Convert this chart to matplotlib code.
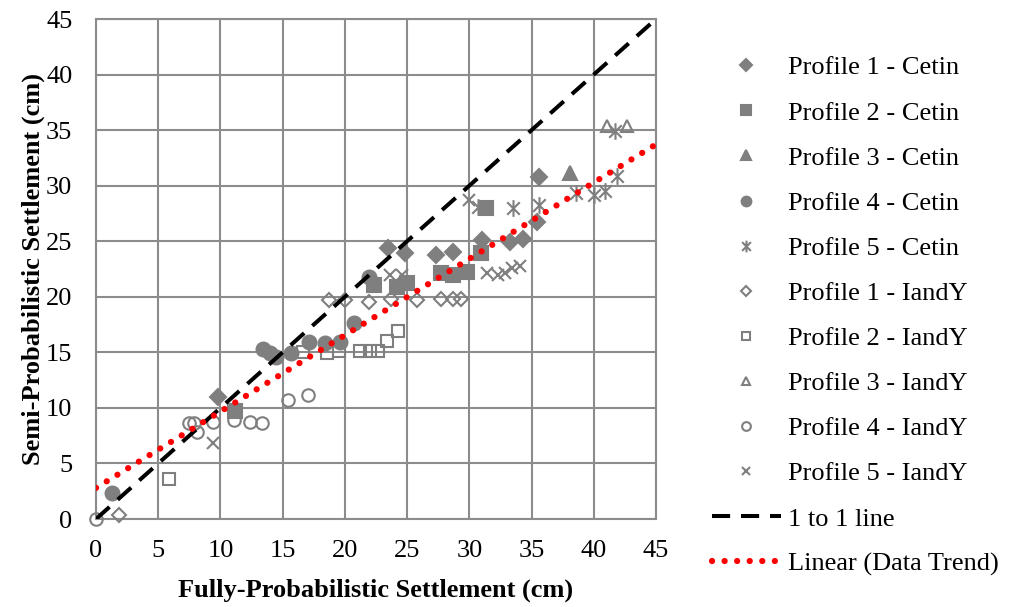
import numpy as np
import matplotlib
matplotlib.use('Agg')
import matplotlib.pyplot as plt
from matplotlib.path import Path

plt.rcParams['font.family'] = ['Liberation Serif', 'DejaVu Serif']

# data (cm)
p1_cetin_x = [9.8, 23.5, 24.8, 27.3, 28.7, 31.0, 33.3, 34.3, 35.4, 35.6]
p1_cetin_y = [11.0, 24.4, 23.9, 23.8, 24.0, 25.1, 24.9, 25.2, 26.7, 30.8]

p2_cetin_x = [11.2, 22.3, 24.2, 25.0, 27.7, 28.7, 29.8, 30.9, 31.3]
p2_cetin_y = [9.7, 21.1, 20.9, 21.2, 22.1, 22.0, 22.2, 23.9, 28.0]

p3_cetin_x = [38.1]
p3_cetin_y = [31.1]

p4_cetin_x = [1.3, 13.4, 14.0, 14.5, 15.7, 17.1, 18.4, 19.6, 20.7, 21.9]
p4_cetin_y = [2.3, 15.3, 14.9, 14.6, 14.9, 15.9, 15.8, 15.9, 17.6, 21.8]

p5_cetin_x = [30.7, 33.5, 35.6, 38.6, 40.0, 40.9, 41.9, 41.7]
p5_cetin_y = [28.1, 28.0, 28.3, 29.3, 29.2, 29.5, 30.9, 34.9]

p1_iandy_x = [1.85, 18.7, 20.0, 21.9, 23.7, 25.8, 27.7, 28.7, 29.3]
p1_iandy_y = [0.4, 19.7, 19.7, 19.5, 19.8, 19.7, 19.8, 19.8, 19.8]

p2_iandy_x = [5.9, 16.6, 18.6, 19.5, 21.2, 22.0, 22.7, 23.4, 24.3]
p2_iandy_y = [3.6, 15.0, 14.9, 15.1, 15.1, 15.1, 15.1, 16.0, 16.9]

p3_iandy_x = [41.1, 42.7]
p3_iandy_y = [35.4, 35.4]

p4_iandy_x = [0.0, 7.5, 7.9, 8.1, 9.4, 11.1, 12.4, 13.3, 15.4, 17.0]
p4_iandy_y = [0.0, 8.6, 8.6, 7.8, 8.7, 8.9, 8.7, 8.6, 10.7, 11.2]

p5_iandy_x = [9.4, 23.6, 24.6, 30.0, 31.4, 32.3, 32.9, 33.4, 34.1]
p5_iandy_y = [6.8, 22.0, 22.0, 28.7, 22.1, 22.0, 22.1, 22.6, 22.8]

one_to_one = [0, 45]
trend_intercept = 2.8
trend_slope = 0.687

ticks = [0, 5, 10, 15, 20, 25, 30, 35, 40, 45]

gray = '#7f7f7f'
grid_gray = '#8c8c8c'

# excel style asterisk: x plus a vertical bar
star = Path([(0, -1), (0, 1), (-0.75, -0.75), (0.75, 0.75), (-0.75, 0.75), (0.75, -0.75)],
            [Path.MOVETO, Path.LINETO, Path.MOVETO, Path.LINETO, Path.MOVETO, Path.LINETO])

fig = plt.figure(figsize=(10.1, 6.07), dpi=100)
ax = fig.add_axes([96 / 1010, 1 - 519 / 607, 560 / 1010, 500 / 607])

series = [
    (p1_cetin_x, p1_cetin_y, 'D', 8.5, True, 'Profile 1 - Cetin'),
    (p2_cetin_x, p2_cetin_y, 's', 9.5, True, 'Profile 2 - Cetin'),
    (p3_cetin_x, p3_cetin_y, '^', 10.5, True, 'Profile 3 - Cetin'),
    (p4_cetin_x, p4_cetin_y, 'o', 10, True, 'Profile 4 - Cetin'),
    (p5_cetin_x, p5_cetin_y, star, 12, False, 'Profile 5 - Cetin'),
    (p1_iandy_x, p1_iandy_y, 'D', 7.5, False, 'Profile 1 - IandY'),
    (p2_iandy_x, p2_iandy_y, 's', 8.5, False, 'Profile 2 - IandY'),
    (p3_iandy_x, p3_iandy_y, '^', 9, False, 'Profile 3 - IandY'),
    (p4_iandy_x, p4_iandy_y, 'o', 9, False, 'Profile 4 - IandY'),
    (p5_iandy_x, p5_iandy_y, 'x', 8.5, False, 'Profile 5 - IandY'),
]

for xs, ys, mk, ms, filled, lab in series:
    ax.plot(xs, ys, linestyle='none', marker=mk, markersize=ms,
            markerfacecolor=gray if filled else 'none',
            markeredgecolor=gray, markeredgewidth=1.5,
            label=lab, clip_on=False, zorder=3)

ax.plot(one_to_one, one_to_one, color='black', linewidth=2.9,
        linestyle=(0, (4.5, 2.7)), label='1 to 1 line', zorder=4)

tx = np.array([0, 45])
ax.plot(tx, trend_intercept + trend_slope * tx, color='#ff0000', linewidth=4.5,
        linestyle=(0, (0.01, 2.0)), dash_capstyle='round',
        label='Linear (Data Trend)', zorder=5)

ax.set_xlim(0, 45)
ax.set_ylim(0, 45)
ax.set_xticks(ticks)
ax.set_yticks(ticks)
ax.grid(True, color=grid_gray, linewidth=1.5)
ax.set_axisbelow(True)
for s in ax.spines.values():
    s.set_color(grid_gray)
    s.set_linewidth(1.5)
ax.tick_params(axis='both', length=0, labelsize=19)
ax.tick_params(axis='y', pad=17)
ax.tick_params(axis='x', pad=15)

ax.set_xlabel('Fully-Probabilistic Settlement (cm)', fontsize=19, fontweight='bold', labelpad=12)
ax.set_ylabel('Semi-Probabilistic Settlement (cm)', fontsize=19, fontweight='bold', labelpad=1)

fig.legend(loc='upper left', bbox_to_anchor=(712 / 1010, 1 - 56 / 607),
           frameon=False, fontsize=19, handlelength=2.6, handletextpad=0.28,
           labelspacing=0.82, borderpad=0, borderaxespad=0, markerscale=0.7)

fig.savefig('out.png', dpi=100)
